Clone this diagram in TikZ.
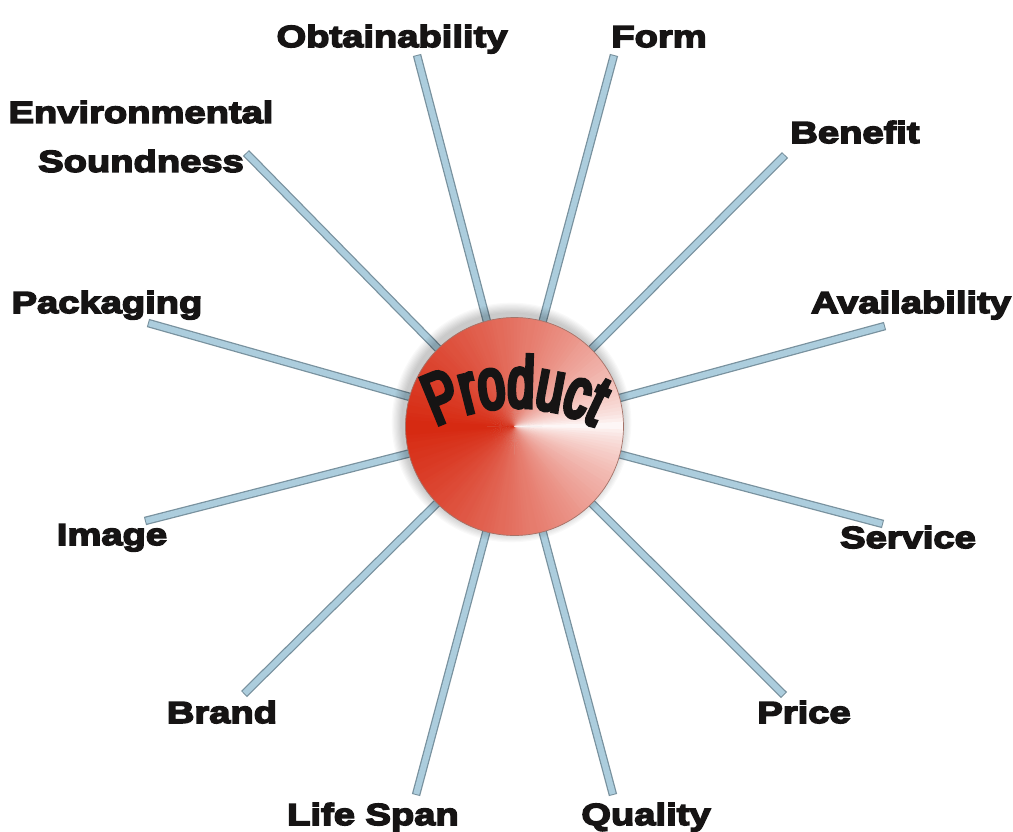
\documentclass[tikz,border=0pt]{standalone}
\usepackage{fontspec}
\usetikzlibrary{decorations.text,calc}
\newfontfamily\lblfont[FakeStretch=1.25,FakeBold=5]{Liberation Sans}
\newfontfamily\prodfont[FakeStretch=0.66,FakeBold=6]{Liberation Sans}
\definecolor{spokefill}{RGB}{172,205,221}
\definecolor{spokeedge}{RGB}{120,145,158}
\definecolor{prodred}{RGB}{214,40,16}
\definecolor{rimgray}{RGB}{165,115,105}
\definecolor{lbltext}{RGB}{22,20,20}
\begin{document}
\begin{tikzpicture}[x=1pt,y=-1pt,
  lbl/.style={font={\lblfont\bfseries\fontsize{30.5}{49}\selectfont}, text=lbltext, inner sep=0pt, anchor=base},
  spokeout/.style={line width=8.5pt, draw=spokeedge},
  spokein/.style={line width=6pt, draw=spokefill, shorten >=1pt}]
\fill[white] (0,0) rectangle (1013,831);
\useasboundingbox (0,0) rectangle (1013,831);
% hub (placed first, drawn later)
\node[circle, minimum size=218pt, inner sep=0pt] (product) at (514.5,426.5) {};
% spoke ends
\foreach \n/\x/\y in {ob/417/55, fo/614/55, en/246/153, be/785/155, pa/148/323, av/885/326, im/145/521, se/883/524, br/244/694, pr/784/695, li/416/795, qu/613/795}
  \coordinate (e\n) at (\x,\y);
% labels
\node[lbl] (obt) at (392,47) {Obtainability};
\node[lbl] (frm) at (659,47) {Form};
\node[lbl, anchor=center, align=center] (env) at (141,136.5) {Environmental\\Soundness};
\node[lbl] (ben) at (855,143) {Benefit};
\node[lbl] (pac) at (107,313) {Packaging};
\node[lbl] (ava) at (911,313) {Availability};
\node[lbl] (img) at (112,545) {Image};
\node[lbl] (ser) at (908,548) {Service};
\node[lbl] (bra) at (222,723) {Brand};
\node[lbl] (pri) at (804,723) {Price};
\node[lbl] (lif) at (373,825) {Life Span};
\node[lbl] (qua) at (646,825) {Quality};
% spokes
\foreach \n in {ob,fo,en,be,pa,av,im,se,br,pr,li,qu} {
  \draw[spokeout] (product) -- (e\n);
  \draw[spokein] (product) -- (e\n);
}
% soft shadow
\foreach \i in {1,...,9}
  \fill[black, opacity=0.025] ($(product.center)+(-3,-4)$) circle ({109+1.2*\i});
% conic-like shading
\begin{scope}
  \clip (product.center) circle (109);
  \foreach \a in {1,3,...,359} {
    \pgfmathsetmacro\d{min(\a,360-\a)/180}
    \pgfmathtruncatemacro\p{100*(\d^0.6)}
    \fill[prodred!\p!white] (product.center) -- +(\a-1.5:125) -- +(\a+1.5:125) -- cycle;
  }
\end{scope}
\draw[rimgray, line width=0.7pt] (product.center) circle (109);
% curved title
\coordinate (arcstart) at (417.5,437.7);
\path[decorate, decoration={text along path, text={|\prodfont\fontsize{72}{72}\selectfont\color{lbltext}|Product}, text align=center}]
  (arcstart) arc[start angle=-125, end angle=-55, radius=170];
\end{tikzpicture}
\end{document}
